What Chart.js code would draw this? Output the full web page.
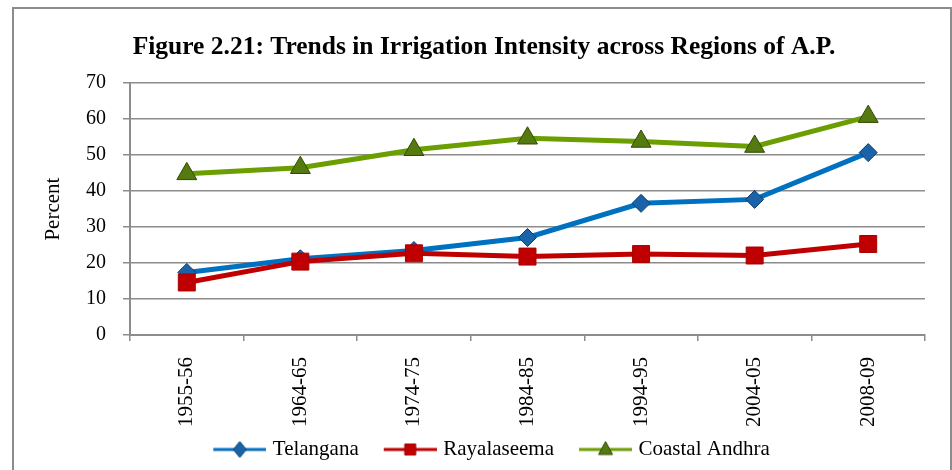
<!DOCTYPE html>
<html lang="en">
<head>
<meta charset="UTF-8">
<title>Figure 2.21: Trends in Irrigation Intensity across Regions of A.P.</title>
<script src="https://cdn.jsdelivr.net/npm/chart.js@4.4.1/dist/chart.umd.min.js"></script>
<style>
    body, html {
        margin: 0;
        padding: 0;
        background: #fff;
    }
    #frame {
        position: absolute;
        left: 12px;
        top: 7px;
        width: 936px;
        height: 500px;
        border: 2px solid #8c8c8c;
    }
    #wrap {
        position: absolute;
        left: 0;
        top: 0;
        width: 952px;
        height: 470px;
    }
</style>
</head>
<body>
<div id="frame"></div>
<div id="wrap"><canvas id="chart" width="952" height="470"></canvas></div>

<script>
// data
const periods = ['1955-56', '1964-65', '1974-75', '1984-85', '1994-95', '2004-05', '2008-09'];
const telangana = [17.4, 21.2, 23.5, 27.1, 36.6, 37.7, 50.7];
const rayalaseema = [14.6, 20.4, 22.7, 21.8, 22.5, 22.1, 25.3];
const coastalAndhra = [44.8, 46.5, 51.5, 54.7, 53.8, 52.4, 60.7];
const yMin = 0, yMax = 70, yStep = 10;

const serif = "'Liberation Serif', 'Times New Roman', serif";
const gridGray = '#8c8c8c';

// small picture for legend: line with marker on it
function legendIcon(lineColor, shape, fill, edge) {
    const c = document.createElement('canvas');
    c.width = 72;
    c.height = 22;
    const g = c.getContext('2d');
    g.strokeStyle = lineColor;
    g.lineWidth = 3;
    g.beginPath();
    g.moveTo(19, 11);
    g.lineTo(72, 11);
    g.stroke();

    const cx = 45.5, cy = 11;
    g.fillStyle = fill;
    g.strokeStyle = edge;
    g.lineWidth = 1;
    g.beginPath();
    if (shape === 'diamond') {
        g.moveTo(cx, cy - 8);
        g.lineTo(cx + 6.5, cy);
        g.lineTo(cx, cy + 8);
        g.lineTo(cx - 6.5, cy);
    } else if (shape === 'square') {
        g.rect(cx - 5.5, cy - 5.5, 11, 11);
    } else {
        g.moveTo(cx, cy - 8);
        g.lineTo(cx + 7, cy + 5);
        g.lineTo(cx - 7, cy + 5);
    }
    g.closePath();
    g.fill();
    g.stroke();
    return c;
}

const icons = [
    legendIcon('#0070c0', 'diamond', '#1b63a8', '#0c3c6b'),
    legendIcon('#c00000', 'square', '#c00000', '#a00000'),
    legendIcon('#6b9e00', 'triangle', '#557a10', '#324a05')
];

const ctx = document.getElementById('chart').getContext('2d');

new Chart(ctx, {
    type: 'line',
    data: {
        labels: periods,
        datasets: [{
            label: 'Telangana',
            data: telangana,
            borderColor: '#0070c0',
            borderWidth: 5,
            pointStyle: 'rectRot',
            pointRadius: 9,
            pointBackgroundColor: '#1b63a8',
            pointBorderColor: '#0c3c6b',
            pointBorderWidth: 1,
            order: 1
        }, {
            label: 'Rayalaseema',
            data: rayalaseema,
            borderColor: '#c00000',
            borderWidth: 5,
            pointStyle: 'rect',
            pointRadius: 12,
            pointBackgroundColor: '#c00000',
            pointBorderColor: '#a80000',
            pointBorderWidth: 1,
            order: 0
        }, {
            label: 'Coastal Andhra',
            data: coastalAndhra,
            borderColor: '#6b9e00',
            borderWidth: 5,
            pointStyle: 'triangle',
            pointRadius: 11.5,
            pointBackgroundColor: '#557a10',
            pointBorderColor: '#324a05',
            pointBorderWidth: 1,
            order: 2
        }]
    },
    options: {
        responsive: false,
        animation: false,
        layout: {
            padding: { left: 43, right: 27, top: 10, bottom: 0 }
        },
        elements: {
            line: { tension: 0 }
        },
        scales: {
            x: {
                type: 'category',
                offset: true,
                grid: {
                    offset: true,
                    drawOnChartArea: false,
                    drawTicks: true,
                    tickLength: 6,
                    color: gridGray,
                    lineWidth: 1.5
                },
                border: { color: gridGray, width: 2 },
                ticks: {
                    autoSkip: false,
                    minRotation: 90,
                    maxRotation: 90,
                    padding: 16,
                    color: '#000',
                    font: { family: serif, size: 21 }
                },
                afterFit: s => { s.height = 94; }
            },
            y: {
                min: yMin,
                max: yMax,
                ticks: {
                    stepSize: yStep,
                    padding: 17,
                    color: '#000',
                    font: { family: serif, size: 20 }
                },
                grid: {
                    color: gridGray,
                    lineWidth: 1.5,
                    tickLength: 7
                },
                border: { color: gridGray, width: 2 },
                title: {
                    display: true,
                    text: 'Percent',
                    color: '#000',
                    font: { family: serif, size: 21 },
                    padding: { top: -2, bottom: 0 }
                },
                afterFit: s => { s.width = 87; }
            }
        },
        plugins: {
            title: {
                display: true,
                text: 'Figure 2.21: Trends in Irrigation Intensity across Regions of A.P.',
                color: '#000',
                font: { family: serif, size: 25.5, weight: 'bold' },
                padding: { top: 22, bottom: 20.6 }
            },
            legend: {
                position: 'bottom',
                labels: {
                    usePointStyle: true,
                    pointStyleWidth: 64,
                    padding: 10,
                    color: '#000',
                    font: { family: serif, size: 21 },
                    generateLabels: chart => chart.data.datasets.map((ds, i) => ({
                        text: ds.label,
                        pointStyle: icons[i],
                        fillStyle: ds.borderColor,
                        strokeStyle: ds.borderColor,
                        lineWidth: 0,
                        hidden: false,
                        datasetIndex: i
                    }))
                }
            },
            tooltip: { enabled: false }
        }
    }
});
</script>
</body>
</html>
